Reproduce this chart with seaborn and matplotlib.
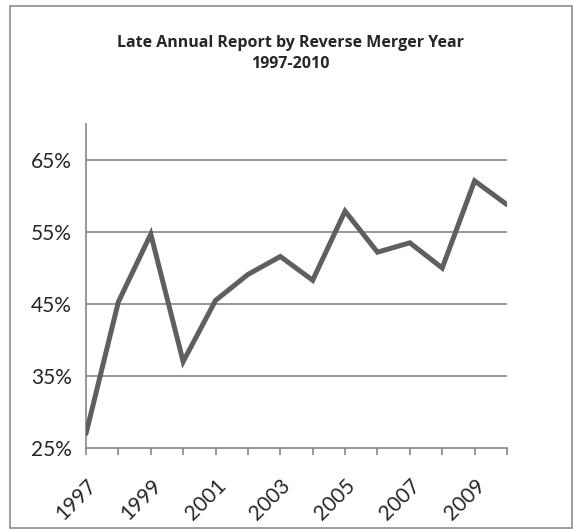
import matplotlib
matplotlib.use("Agg")
import matplotlib.pyplot as plt
import seaborn as sns
import pandas as pd
from matplotlib.patches import Rectangle
from matplotlib.ticker import FuncFormatter

years = [1997, 1998, 1999, 2000, 2001, 2002, 2003, 2004, 2005, 2006, 2007, 2008, 2009, 2010]
late_pct = [27.0, 45.3, 54.7, 37.0, 45.5, 49.1, 51.6, 48.3, 57.9, 52.2, 53.5, 50.0, 62.1, 58.8]
y_ticks = [25, 35, 45, 55, 65]
x_labels = [1997, 1999, 2001, 2003, 2005, 2007, 2009]
title = "Late Annual Report by Reverse Merger Year\n1997-2010"

df = pd.DataFrame({"year": years, "pct": late_pct})

sns.set_style("white")
plt.rcParams["font.family"] = ["Lato", "DejaVu Sans"]

fig = plt.figure(figsize=(5.75, 5.29), dpi=100)
ax = fig.add_axes([0.1496, 0.1531, 0.7321, 0.6125])

grid_c = "#868686"
for t in y_ticks[1:]:
    ax.axhline(t, color=grid_c, lw=1.2, zorder=1)

sns.lineplot(data=df, x="year", y="pct", ax=ax, color="#5f5f5f", lw=3.6,
             solid_joinstyle="miter", zorder=3)

ax.set_xlim(1997, 2010)
ax.set_ylim(25, 70)
ax.set_yticks(y_ticks)
ax.yaxis.set_major_formatter(FuncFormatter(lambda v, p: f"{v:.0f}%"))
ax.tick_params(axis="y", length=0, labelsize=15, pad=10)
ax.set_xticks(years)
ax.set_xticklabels([str(y) if y in x_labels else "" for y in years],
                   rotation=45, ha="right", rotation_mode="anchor")
ax.tick_params(axis="x", length=5, width=1.2, color=grid_c, labelsize=15,
               pad=15, direction="out", bottom=True)
ax.set_xlabel("")
ax.set_ylabel("")

for s in ["top", "right"]:
    ax.spines[s].set_visible(False)
for s in ["left", "bottom"]:
    ax.spines[s].set_color(grid_c)
    ax.spines[s].set_linewidth(1.2)

fig.text(0.505, 0.899, title, ha="center", va="center", fontsize=11.5,
         fontweight="bold", linespacing=1.45,
         family=["Open Sans", "DejaVu Sans"])

fig.patches.append(Rectangle((10 / 575, 1 / 529), 562 / 575, 522 / 529,
                             transform=fig.transFigure, fill=False,
                             edgecolor="#8c8c8c", lw=1.2))

fig.savefig("out.png", dpi=100)
